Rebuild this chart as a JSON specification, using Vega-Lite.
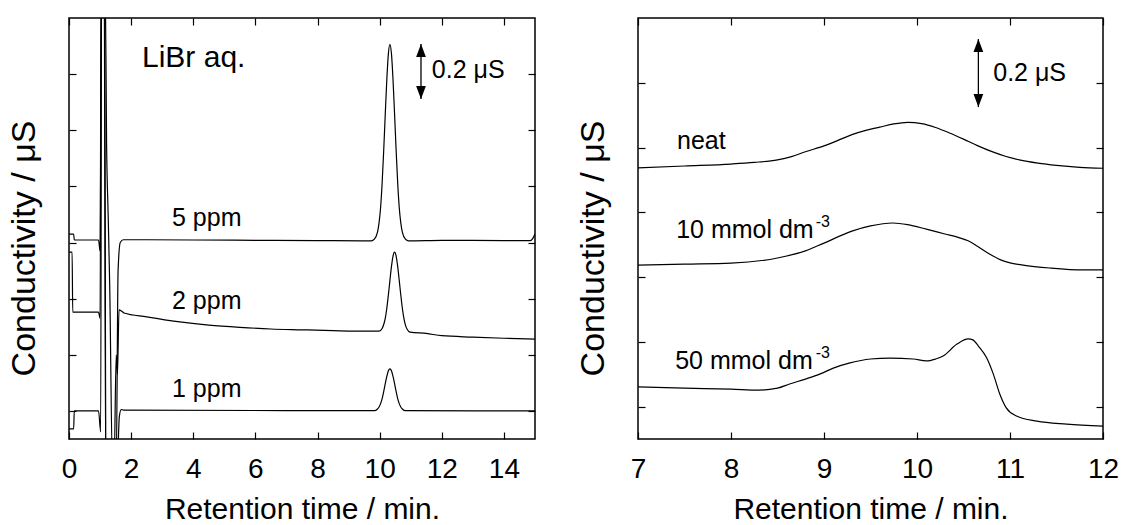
{
  "$schema": "https://vega.github.io/schema/vega-lite/v6.json",
  "padding": {"left": 6, "top": 16, "right": 5, "bottom": 3},
  "background": "white",
  "spacing": 38,
  "config": {
    "font": "Liberation Sans",
    "view": {"stroke": "black", "strokeWidth": 1.5},
    "axis": {
      "domain": false,
      "grid": false,
      "ticks": true,
      "tickSize": -7,
      "tickColor": "black",
      "tickWidth": 1.2,
      "labelFont": "Liberation Sans",
      "labelFontSize": 28,
      "labelColor": "black",
      "labelPadding": 23,
      "labelFlush": false,
      "labelOverlap": false,
      "titleFont": "Liberation Sans",
      "titleFontSize": 30,
      "titleFontWeight": "normal",
      "titleColor": "black"
    }
  },
  "datasets": {
    "left": [
      {"s": "5", "t": 0.00, "v": 0.630}, {"s": "5", "t": 0.15, "v": 0.630}, {"s": "5", "t": 0.17, "v": 0.609},
      {"s": "5", "t": 0.95, "v": 0.609}, {"s": "5", "t": 1.00, "v": 0.570}, {"s": "5", "t": 1.04, "v": 1.600},
      {"s": "5", "t": 1.16, "v": 1.600}, {"s": "5", "t": 1.21, "v": 0.950}, {"s": "5", "t": 1.26, "v": 0.700},
      {"s": "5", "t": 1.31, "v": 0.450}, {"s": "5", "t": 1.40, "v": -0.200}, {"s": "5", "t": 1.52, "v": -0.200},
      {"s": "5", "t": 1.58, "v": 0.500}, {"s": "5", "t": 1.65, "v": 0.600}, {"s": "5", "t": 1.75, "v": 0.610},
      {"s": "5", "t": 2.5, "v": 0.610}, {"s": "5", "t": 4.0, "v": 0.609}, {"s": "5", "t": 6.0, "v": 0.608},
      {"s": "5", "t": 8.0, "v": 0.607}, {"s": "5", "t": 9.4, "v": 0.606}, {"s": "5", "t": 9.73, "v": 0.606},
      {"s": "5", "t": 9.83, "v": 0.612}, {"s": "5", "t": 9.93, "v": 0.637}, {"s": "5", "t": 9.98, "v": 0.670},
      {"s": "5", "t": 10.03, "v": 0.725}, {"s": "5", "t": 10.08, "v": 0.813}, {"s": "5", "t": 10.13, "v": 0.928},
      {"s": "5", "t": 10.18, "v": 1.057}, {"s": "5", "t": 10.23, "v": 1.180}, {"s": "5", "t": 10.28, "v": 1.272},
      {"s": "5", "t": 10.33, "v": 1.306}, {"s": "5", "t": 10.38, "v": 1.272}, {"s": "5", "t": 10.43, "v": 1.180},
      {"s": "5", "t": 10.48, "v": 1.057}, {"s": "5", "t": 10.53, "v": 0.928}, {"s": "5", "t": 10.58, "v": 0.813},
      {"s": "5", "t": 10.63, "v": 0.725}, {"s": "5", "t": 10.68, "v": 0.670}, {"s": "5", "t": 10.73, "v": 0.637},
      {"s": "5", "t": 10.83, "v": 0.612}, {"s": "5", "t": 10.93, "v": 0.606}, {"s": "5", "t": 12.0, "v": 0.608},
      {"s": "5", "t": 14.0, "v": 0.607}, {"s": "5", "t": 14.85, "v": 0.607}, {"s": "5", "t": 14.93, "v": 0.615},
      {"s": "5", "t": 15.0, "v": 0.630},

      {"s": "2", "t": 0.00, "v": 0.566}, {"s": "2", "t": 0.10, "v": 0.566}, {"s": "2", "t": 0.12, "v": 0.352},
      {"s": "2", "t": 0.95, "v": 0.352}, {"s": "2", "t": 1.00, "v": 0.330}, {"s": "2", "t": 1.04, "v": 1.600},
      {"s": "2", "t": 1.14, "v": 1.600}, {"s": "2", "t": 1.19, "v": -0.200}, {"s": "2", "t": 1.45, "v": -0.200},
      {"s": "2", "t": 1.52, "v": 0.200}, {"s": "2", "t": 1.56, "v": 0.130}, {"s": "2", "t": 1.61, "v": 0.360},
      {"s": "2", "t": 1.70, "v": 0.355}, {"s": "2", "t": 1.77, "v": 0.349}, {"s": "2", "t": 2.5, "v": 0.335},
      {"s": "2", "t": 3.5, "v": 0.318}, {"s": "2", "t": 4.5, "v": 0.306}, {"s": "2", "t": 5.5, "v": 0.298},
      {"s": "2", "t": 6.5, "v": 0.292}, {"s": "2", "t": 7.5, "v": 0.289}, {"s": "2", "t": 8.5, "v": 0.286},
      {"s": "2", "t": 9.5, "v": 0.284}, {"s": "2", "t": 9.98, "v": 0.284}, {"s": "2", "t": 10.08, "v": 0.294},
      {"s": "2", "t": 10.13, "v": 0.308}, {"s": "2", "t": 10.18, "v": 0.330}, {"s": "2", "t": 10.23, "v": 0.366},
      {"s": "2", "t": 10.28, "v": 0.413}, {"s": "2", "t": 10.33, "v": 0.465}, {"s": "2", "t": 10.38, "v": 0.515},
      {"s": "2", "t": 10.43, "v": 0.552}, {"s": "2", "t": 10.48, "v": 0.566}, {"s": "2", "t": 10.53, "v": 0.552},
      {"s": "2", "t": 10.58, "v": 0.515}, {"s": "2", "t": 10.63, "v": 0.465}, {"s": "2", "t": 10.68, "v": 0.413},
      {"s": "2", "t": 10.73, "v": 0.366}, {"s": "2", "t": 10.78, "v": 0.330}, {"s": "2", "t": 10.83, "v": 0.306},
      {"s": "2", "t": 10.88, "v": 0.292}, {"s": "2", "t": 10.98, "v": 0.281}, {"s": "2", "t": 11.5, "v": 0.276},
      {"s": "2", "t": 12.0, "v": 0.268}, {"s": "2", "t": 13.0, "v": 0.263}, {"s": "2", "t": 14.0, "v": 0.259},
      {"s": "2", "t": 15.0, "v": 0.256},

      {"s": "1", "t": 0.00, "v": -0.064}, {"s": "1", "t": 0.15, "v": -0.064}, {"s": "1", "t": 0.17, "v": 0.000},
      {"s": "1", "t": 0.95, "v": 0.000}, {"s": "1", "t": 1.02, "v": -0.075}, {"s": "1", "t": 1.05, "v": 1.600},
      {"s": "1", "t": 1.13, "v": 1.600}, {"s": "1", "t": 1.18, "v": -0.200}, {"s": "1", "t": 1.55, "v": -0.200},
      {"s": "1", "t": 1.62, "v": -0.020}, {"s": "1", "t": 1.68, "v": 0.005}, {"s": "1", "t": 1.75, "v": 0.003},
      {"s": "1", "t": 9.83, "v": 0.001}, {"s": "1", "t": 9.93, "v": 0.007}, {"s": "1", "t": 9.98, "v": 0.014},
      {"s": "1", "t": 10.03, "v": 0.026}, {"s": "1", "t": 10.08, "v": 0.044}, {"s": "1", "t": 10.13, "v": 0.069},
      {"s": "1", "t": 10.18, "v": 0.097}, {"s": "1", "t": 10.23, "v": 0.123}, {"s": "1", "t": 10.28, "v": 0.143},
      {"s": "1", "t": 10.33, "v": 0.150}, {"s": "1", "t": 10.38, "v": 0.143}, {"s": "1", "t": 10.43, "v": 0.123},
      {"s": "1", "t": 10.48, "v": 0.097}, {"s": "1", "t": 10.53, "v": 0.069}, {"s": "1", "t": 10.58, "v": 0.044},
      {"s": "1", "t": 10.63, "v": 0.026}, {"s": "1", "t": 10.68, "v": 0.014}, {"s": "1", "t": 10.73, "v": 0.007},
      {"s": "1", "t": 10.83, "v": 0.001}, {"s": "1", "t": 15.0, "v": 0.000}
    ],
    "right": [
      {"s": "neat", "t": 7.0, "v": 0.737}, {"s": "neat", "t": 7.5, "v": 0.743}, {"s": "neat", "t": 8.0, "v": 0.749},
      {"s": "neat", "t": 8.25, "v": 0.754}, {"s": "neat", "t": 8.5, "v": 0.762}, {"s": "neat", "t": 8.65, "v": 0.772},
      {"s": "neat", "t": 8.8, "v": 0.787}, {"s": "neat", "t": 9.0, "v": 0.805}, {"s": "neat", "t": 9.15, "v": 0.822},
      {"s": "neat", "t": 9.3, "v": 0.840}, {"s": "neat", "t": 9.45, "v": 0.853}, {"s": "neat", "t": 9.6, "v": 0.863},
      {"s": "neat", "t": 9.75, "v": 0.873}, {"s": "neat", "t": 9.9, "v": 0.878}, {"s": "neat", "t": 10.05, "v": 0.874},
      {"s": "neat", "t": 10.2, "v": 0.862}, {"s": "neat", "t": 10.35, "v": 0.845}, {"s": "neat", "t": 10.5, "v": 0.826},
      {"s": "neat", "t": 10.65, "v": 0.806}, {"s": "neat", "t": 10.8, "v": 0.788}, {"s": "neat", "t": 10.95, "v": 0.773},
      {"s": "neat", "t": 11.1, "v": 0.762}, {"s": "neat", "t": 11.3, "v": 0.752}, {"s": "neat", "t": 11.5, "v": 0.745},
      {"s": "neat", "t": 11.75, "v": 0.739}, {"s": "neat", "t": 12.0, "v": 0.736},

      {"s": "10", "t": 7.0, "v": 0.437}, {"s": "10", "t": 7.5, "v": 0.440}, {"s": "10", "t": 8.0, "v": 0.443},
      {"s": "10", "t": 8.5, "v": 0.459}, {"s": "10", "t": 8.8, "v": 0.481}, {"s": "10", "t": 9.0, "v": 0.505},
      {"s": "10", "t": 9.3, "v": 0.542}, {"s": "10", "t": 9.5, "v": 0.558}, {"s": "10", "t": 9.74, "v": 0.567},
      {"s": "10", "t": 9.9, "v": 0.562}, {"s": "10", "t": 10.1, "v": 0.548}, {"s": "10", "t": 10.3, "v": 0.533},
      {"s": "10", "t": 10.45, "v": 0.522}, {"s": "10", "t": 10.55, "v": 0.512}, {"s": "10", "t": 10.65, "v": 0.495},
      {"s": "10", "t": 10.78, "v": 0.471}, {"s": "10", "t": 10.9, "v": 0.453}, {"s": "10", "t": 11.0, "v": 0.444},
      {"s": "10", "t": 11.14, "v": 0.437}, {"s": "10", "t": 11.43, "v": 0.428}, {"s": "10", "t": 11.79, "v": 0.422},
      {"s": "10", "t": 12.0, "v": 0.422},

      {"s": "50", "t": 7.0, "v": 0.061}, {"s": "50", "t": 7.5, "v": 0.057}, {"s": "50", "t": 8.0, "v": 0.054},
      {"s": "50", "t": 8.3, "v": 0.051}, {"s": "50", "t": 8.5, "v": 0.057}, {"s": "50", "t": 8.63, "v": 0.070},
      {"s": "50", "t": 8.8, "v": 0.085}, {"s": "50", "t": 8.96, "v": 0.101}, {"s": "50", "t": 9.1, "v": 0.119},
      {"s": "50", "t": 9.28, "v": 0.135}, {"s": "50", "t": 9.5, "v": 0.147}, {"s": "50", "t": 9.71, "v": 0.150},
      {"s": "50", "t": 9.96, "v": 0.147}, {"s": "50", "t": 10.1, "v": 0.141}, {"s": "50", "t": 10.2, "v": 0.147},
      {"s": "50", "t": 10.28, "v": 0.156}, {"s": "50", "t": 10.43, "v": 0.193}, {"s": "50", "t": 10.55, "v": 0.209},
      {"s": "50", "t": 10.6, "v": 0.206}, {"s": "50", "t": 10.66, "v": 0.187}, {"s": "50", "t": 10.75, "v": 0.150},
      {"s": "50", "t": 10.82, "v": 0.101}, {"s": "50", "t": 10.89, "v": 0.039}, {"s": "50", "t": 10.96, "v": -0.004},
      {"s": "50", "t": 11.07, "v": -0.029}, {"s": "50", "t": 11.29, "v": -0.045}, {"s": "50", "t": 11.61, "v": -0.054},
      {"s": "50", "t": 12.0, "v": -0.060}
    ],
    "leftArrow": [{"t": 11.33, "v": 1.307, "v2": 1.111}],
    "rightArrow": [{"t": 10.66, "v": 1.135, "v2": 0.925}],
    "leftBig": [{"t": 2.35, "v": 1.225, "label": "LiBr aq."}],
    "leftText": [
      {"t": 11.68, "v": 1.186, "label": "0.2 μS"},
      {"t": 3.315, "v": 0.659, "label": "5 ppm"},
      {"t": 3.315, "v": 0.363, "label": "2 ppm"},
      {"t": 3.315, "v": 0.050, "label": "1 ppm"}
    ],
    "rightText": [
      {"t": 10.82, "v": 1.006, "label": "0.2 μS"},
      {"t": 7.42, "v": 0.795, "label": "neat"},
      {"t": 7.41, "v": 0.521, "label": "10 mmol dm"},
      {"t": 7.40, "v": 0.116, "label": "50 mmol dm"}
    ],
    "rightSup": [
      {"t": 8.91, "v": 0.556, "label": "-3"},
      {"t": 8.91, "v": 0.150, "label": "-3"}
    ]
  },
  "hconcat": [
    {
      "width": 466,
      "height": 421,
      "resolve": {"axis": {"x": "independent", "y": "independent"}},
      "layer": [
        {
          "data": {"name": "left"},
          "mark": {"type": "line", "clip": true, "interpolate": "monotone", "color": "black", "strokeWidth": 1.2},
          "encoding": {
            "x": {"field": "t", "type": "quantitative", "scale": {"domain": [0, 15], "nice": false, "zero": false},
              "axis": {"orient": "bottom", "values": [0, 2, 4, 6, 8, 10, 12, 14], "title": "Retention time / min.", "titlePadding": 11}},
            "y": {"field": "v", "type": "quantitative", "scale": {"domain": [-0.1, 1.4], "nice": false, "zero": false},
              "axis": {"orient": "left", "values": [0, 0.2, 0.4, 0.6, 0.8, 1.0, 1.2], "labels": false, "title": "Conductivity / μS", "titlePadding": 27, "titleFontSize": 34, "titleY": 230}},
            "detail": {"field": "s"}
          }
        },
        {
          "data": {"name": "leftArrow"},
          "mark": {"type": "rule", "color": "black", "strokeWidth": 1.3},
          "encoding": {
            "x": {"field": "t", "type": "quantitative", "axis": {"orient": "top", "values": [0, 2, 4, 6, 8, 10, 12, 14], "labels": false, "title": null}},
            "y": {"field": "v", "type": "quantitative", "axis": {"orient": "right", "values": [0, 0.2, 0.4, 0.6, 0.8, 1.0, 1.2], "labels": false, "title": null}},
            "y2": {"field": "v2"}
          }
        },
        {
          "data": {"name": "leftArrow"},
          "mark": {"type": "point", "shape": "M0,-1L0.75,1L-0.75,1Z", "filled": true, "color": "black", "opacity": 1, "size": 169, "yOffset": 6.5},
          "encoding": {
            "x": {"field": "t", "type": "quantitative", "axis": null},
            "y": {"field": "v", "type": "quantitative", "axis": null}
          }
        },
        {
          "data": {"name": "leftArrow"},
          "mark": {"type": "point", "shape": "M0,1L0.75,-1L-0.75,-1Z", "filled": true, "color": "black", "opacity": 1, "size": 169, "yOffset": -6.5},
          "encoding": {
            "x": {"field": "t", "type": "quantitative", "axis": null},
            "y": {"field": "v2", "type": "quantitative", "axis": null}
          }
        },
        {
          "data": {"name": "leftBig"},
          "mark": {"type": "text", "align": "left", "baseline": "alphabetic", "fontSize": 30, "font": "Liberation Sans", "color": "black"},
          "encoding": {
            "x": {"field": "t", "type": "quantitative", "axis": null},
            "y": {"field": "v", "type": "quantitative", "axis": null},
            "text": {"field": "label"}
          }
        },
        {
          "data": {"name": "leftText"},
          "mark": {"type": "text", "align": "left", "baseline": "alphabetic", "fontSize": 25, "font": "Liberation Sans", "color": "black"},
          "encoding": {
            "x": {"field": "t", "type": "quantitative", "axis": null},
            "y": {"field": "v", "type": "quantitative", "axis": null},
            "text": {"field": "label"}
          }
        }
      ]
    },
    {
      "width": 465,
      "height": 421,
      "resolve": {"axis": {"x": "independent", "y": "independent"}},
      "layer": [
        {
          "data": {"name": "right"},
          "mark": {"type": "line", "clip": true, "interpolate": "monotone", "color": "black", "strokeWidth": 1.2},
          "encoding": {
            "x": {"field": "t", "type": "quantitative", "scale": {"domain": [7, 12], "nice": false, "zero": false},
              "axis": {"orient": "bottom", "values": [7, 8, 9, 10, 11, 12], "title": "Retention time / min.", "titlePadding": 11}},
            "y": {"field": "v", "type": "quantitative", "scale": {"domain": [-0.1, 1.2], "nice": false, "zero": false},
              "axis": {"orient": "left", "values": [0, 0.2, 0.4, 0.6, 0.8, 1.0], "labels": false, "title": "Conductivity / μS", "titlePadding": 27, "titleFontSize": 34, "titleY": 230}},
            "detail": {"field": "s"}
          }
        },
        {
          "data": {"name": "rightArrow"},
          "mark": {"type": "rule", "color": "black", "strokeWidth": 1.3},
          "encoding": {
            "x": {"field": "t", "type": "quantitative", "axis": {"orient": "top", "values": [7, 8, 9, 10, 11, 12], "labels": false, "title": null}},
            "y": {"field": "v", "type": "quantitative", "axis": {"orient": "right", "values": [0, 0.2, 0.4, 0.6, 0.8, 1.0], "labels": false, "title": null}},
            "y2": {"field": "v2"}
          }
        },
        {
          "data": {"name": "rightArrow"},
          "mark": {"type": "point", "shape": "M0,-1L0.75,1L-0.75,1Z", "filled": true, "color": "black", "opacity": 1, "size": 169, "yOffset": 6.5},
          "encoding": {
            "x": {"field": "t", "type": "quantitative", "axis": null},
            "y": {"field": "v", "type": "quantitative", "axis": null}
          }
        },
        {
          "data": {"name": "rightArrow"},
          "mark": {"type": "point", "shape": "M0,1L0.75,-1L-0.75,-1Z", "filled": true, "color": "black", "opacity": 1, "size": 169, "yOffset": -6.5},
          "encoding": {
            "x": {"field": "t", "type": "quantitative", "axis": null},
            "y": {"field": "v2", "type": "quantitative", "axis": null}
          }
        },
        {
          "data": {"name": "rightText"},
          "mark": {"type": "text", "align": "left", "baseline": "alphabetic", "fontSize": 25, "font": "Liberation Sans", "color": "black"},
          "encoding": {
            "x": {"field": "t", "type": "quantitative", "axis": null},
            "y": {"field": "v", "type": "quantitative", "axis": null},
            "text": {"field": "label"}
          }
        },
        {
          "data": {"name": "rightSup"},
          "mark": {"type": "text", "align": "left", "baseline": "alphabetic", "fontSize": 16, "font": "Liberation Sans", "color": "black"},
          "encoding": {
            "x": {"field": "t", "type": "quantitative", "axis": null},
            "y": {"field": "v", "type": "quantitative", "axis": null},
            "text": {"field": "label"}
          }
        }
      ]
    }
  ]
}
